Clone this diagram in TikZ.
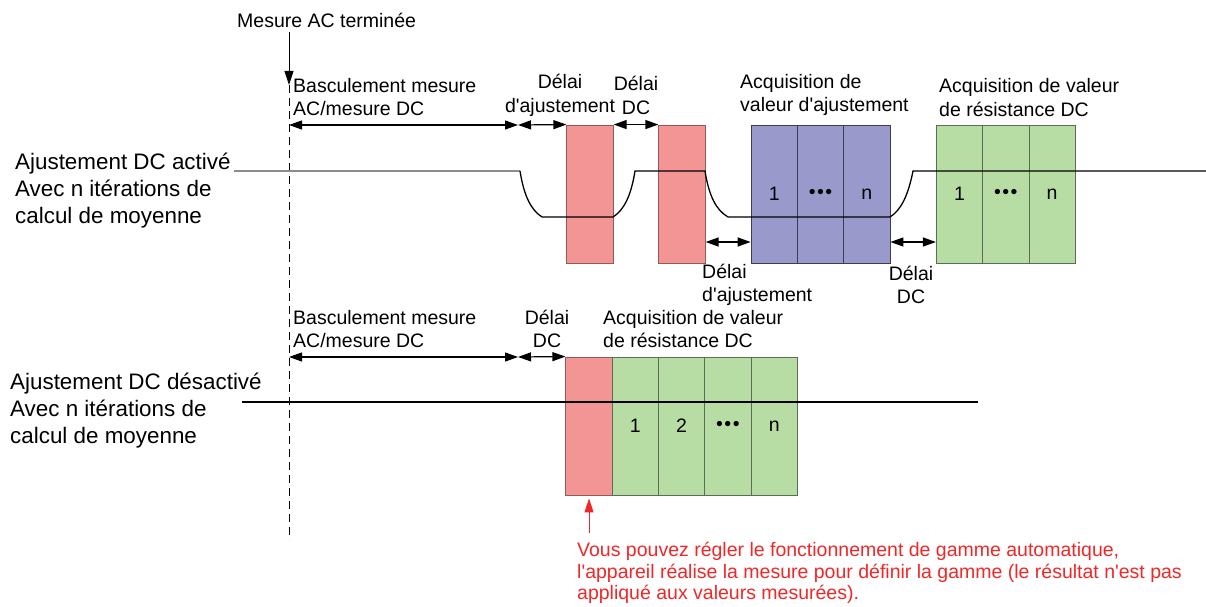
\documentclass[tikz,border=0pt]{standalone}
\usepackage{fontspec}
\setmainfont{Liberation Sans}[Ligatures=TeXOff]
\usetikzlibrary{arrows.meta}
\definecolor{boxred}{RGB}{243,148,149}
\definecolor{boxblue}{RGB}{153,153,204}
\definecolor{boxgreen}{RGB}{183,221,164}
\definecolor{notered}{RGB}{238,40,40}
\tikzset{
  lbl/.style={font=\fontsize{19.5}{23.5}\selectfont, inner sep=0pt, align=left},
  big/.style={font=\fontsize{22.4}{27}\selectfont, inner sep=0pt, align=left},
  dimarrow/.style={{Triangle[length=13pt,width=9pt]}-{Triangle[length=13pt,width=9pt]}, line width=1.2pt},
  cellbox/.style={minimum width=46.3pt, minimum height=138pt, inner sep=0pt, line width=0.9pt,
     font=\fontsize{19.5}{23.5}\selectfont},
  redcell/.style={cellbox, fill=boxred, draw=boxred!60!black},
  bluecell/.style={cellbox, fill=boxblue, draw=boxblue!40!black},
  greencell/.style={cellbox, fill=boxgreen, draw=boxgreen!50!black},
  signal/.style={line width=1.3pt, black},
}
\newcommand{\mydots}{\textbullet\hspace{1.5pt}\textbullet\hspace{1.5pt}\textbullet}
\begin{document}
\begin{tikzpicture}[x=1pt,y=-1pt]
\useasboundingbox (0,0) rectangle (1206,607);

% ---------- top section boxes ----------
\node[redcell] (r1) at (590,194) {};
\node[redcell] (r2) at (682,194) {};
\node[bluecell] (b1) at (774.2,194) {1};
\node[bluecell] (b2) at (820.5,194) {\mydots};
\node[bluecell] (b3) at (866.8,194) {n};
\node[greencell] (g1) at (959.5,194) {1};
\node[greencell] (g2) at (1005.8,194) {\mydots};
\node[greencell] (g3) at (1052.1,194) {n};

% ---------- bottom section boxes ----------
\node[redcell] (r3) at (589,426) {};
\node[greencell] (h1) at (635.3,426) {1};
\node[greencell] (h2) at (681.6,426) {2};
\node[greencell] (h3) at (727.9,426) {\mydots};
\node[greencell] (h4) at (774.2,426) {n};

% ---------- marker ----------
\node[lbl, anchor=west] (acdone) at (237,20) {Mesure AC terminée};
\coordinate (mk) at (289,85);
\coordinate (mkbot) at (289,540);
\draw[-{Triangle[length=14pt,width=9pt]}, line width=0.9pt] (289,32) -- (mk);
\draw[dashed, dash pattern=on 8pt off 5pt, line width=0.9pt] (mk) -- (mkbot);

% ---------- top timing arrows ----------
\coordinate (ta0) at (289,125);
\coordinate (ta1) at (518,125);
\draw[dimarrow] (ta0) -- (ta1);
\draw[dimarrow] (ta1) -- (r1.north west);
\draw[dimarrow] (r1.north east) -- (r2.north west);
\coordinate (tb0) at (r2.east |- 0,242);
\coordinate (tb1) at (b1.west |- 0,242);
\coordinate (tb2) at (b3.east |- 0,242);
\coordinate (tb3) at (g1.west |- 0,242);
\draw[dimarrow] (tb0) -- (tb1);
\draw[dimarrow] (tb2) -- (tb3);

% ---------- top signal ----------
\node[big, anchor=west] (lt) at (15,191) {Ajustement DC activé\\Avec n itérations de\\calcul de moyenne};
\coordinate (s0) at (234,171);
\coordinate (s1) at (520,171);
\draw[line width=1.3pt, black!45] (s0) -- (s1);
\draw[signal] (s1) .. controls (524,196) and (531,210) .. (542,217) -- (613,217)
  .. controls (624,210) and (631,196) .. (635,171) -- (705,171)
  .. controls (709,196) and (716,210) .. (728,217) -- (890,217)
  .. controls (901,210) and (908,196) .. (913,171) -- (1206,171);

% ---------- top labels ----------
\node[lbl, anchor=west] (tl1) at (293,97) {Basculement mesure\\AC/mesure DC};
\node[lbl, align=center] (tl2) at (560,95.5) {Délai\\d'ajustement};
\node[lbl, align=center] (tl3) at (636,95.5) {Délai\\DC};
\node[lbl, anchor=west] (tl4) at (740,95) {Acquisition de\\valeur d'ajustement};
\node[lbl, anchor=west] (tl5) at (939,97.5) {Acquisition de valeur\\de résistance DC};
\node[lbl, anchor=west] (tl6) at (702,285) {Délai\\d'ajustement};
\node[lbl, align=center] (tl7) at (911,285) {Délai\\DC};

% ---------- bottom section ----------
\node[big, anchor=west] (lb) at (10,411) {Ajustement DC désactivé\\Avec n itérations de\\calcul de moyenne};
\coordinate (u0) at (242,402);
\coordinate (u1) at (978,402);
\draw[signal] (u0) -- (u1);
\coordinate (ba0) at (289,357);
\coordinate (ba1) at (518,357);
\draw[dimarrow] (ba0) -- (ba1);
\draw[dimarrow] (ba1) -- (r3.north west);
\node[lbl, anchor=west] (bl1) at (293,329) {Basculement mesure\\AC/mesure DC};
\node[lbl, align=center] (bl2) at (547,329) {Délai\\DC};
\node[lbl, anchor=west] (bl3) at (603,329) {Acquisition de valeur\\de résistance DC};

% ---------- note ----------
\node[lbl, anchor=west, text=notered, font=\fontsize{19.5}{21.5}\selectfont] (note) at (577,573)
  {Vous pouvez régler le fonctionnement de gamme automatique,\\l'appareil réalise la mesure pour définir la gamme (le résultat n'est pas\\appliqué aux valeurs mesurées).};
\coordinate (na) at (589,533);
\draw[-{Triangle[length=14pt,width=9pt]}, line width=1pt, notered] (na) -- ([yshift=-3pt]r3.south);
\end{tikzpicture}
\end{document}
